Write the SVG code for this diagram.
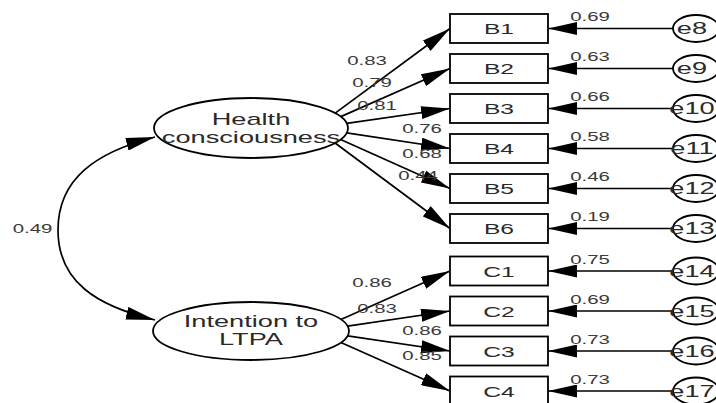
<svg xmlns="http://www.w3.org/2000/svg" width="716" height="403" viewBox="0 0 716 403">
<defs>
<style>
text{font-family:"Liberation Sans",Arial,sans-serif;fill:#2a2a2a;text-anchor:middle;transform-box:fill-box;transform-origin:center;transform:scaleX(1.7)}
.lat{font-size:16px}
.obs{font-size:14.5px}
.err{font-size:16px}
.num{font-size:12px;fill:#3a3a3a}
.shape{fill:#fff;stroke:#000;stroke-width:1.8}
.conn{fill:none;stroke:#000;stroke-width:1.7}
.arr{marker-end:url(#ah)}
</style>
<marker id="ah" markerUnits="userSpaceOnUse" markerWidth="30" markerHeight="13" refX="29" refY="6.5" orient="auto-start-reverse" viewBox="0 0 30 13">
<path d="M0,0 L29,6.5 L0,13 z" fill="#000"/>
</marker>
</defs>
<rect width="716" height="403" fill="#fff"/>

<g id="connectors">
<path class="conn" d="M155,137 C97,152 58,178 58,230 C58,282 97,306 155,320" marker-start="url(#ah)" marker-end="url(#ah)"/>
<line class="conn arr" x1="335.2" y1="113.1" x2="450" y2="28.5"/>
<line class="conn arr" x1="340.8" y1="116.6" x2="450" y2="68.5"/>
<line class="conn arr" x1="346.8" y1="123.4" x2="450" y2="108.5"/>
<line class="conn arr" x1="346.7" y1="132.8" x2="450" y2="148.5"/>
<line class="conn arr" x1="340.6" y1="139.5" x2="450" y2="188.5"/>
<line class="conn arr" x1="335.1" y1="143" x2="450" y2="228.5"/>
<line class="conn arr" x1="340.9" y1="319.5" x2="450" y2="271"/>
<line class="conn arr" x1="347.6" y1="326.2" x2="450" y2="311"/>
<line class="conn arr" x1="347.6" y1="335.8" x2="450" y2="351"/>
<line class="conn arr" x1="340.9" y1="342.5" x2="450" y2="391"/>
<line class="conn arr" x1="673" y1="28.5" x2="548" y2="28.5"/>
<line class="conn arr" x1="673" y1="68.5" x2="548" y2="68.5"/>
<line class="conn arr" x1="673" y1="108.5" x2="548" y2="108.5"/>
<line class="conn arr" x1="673" y1="148.5" x2="548" y2="148.5"/>
<line class="conn arr" x1="673" y1="188.5" x2="548" y2="188.5"/>
<line class="conn arr" x1="673" y1="228.5" x2="548" y2="228.5"/>
<line class="conn arr" x1="673" y1="271" x2="548" y2="271"/>
<line class="conn arr" x1="673" y1="311" x2="548" y2="311"/>
<line class="conn arr" x1="673" y1="351" x2="548" y2="351"/>
<line class="conn arr" x1="673" y1="391" x2="548" y2="391"/>
<text class="num" x="32.5" y="233">0.49</text>
<text class="num" x="367" y="65">0.83</text>
<text class="num" x="372" y="87">0.79</text>
<text class="num" x="377" y="110">0.81</text>
<text class="num" x="422" y="133">0.76</text>
<text class="num" x="422" y="158">0.68</text>
<text class="num" x="418" y="180">0.44</text>
<text class="num" x="372" y="287">0.86</text>
<text class="num" x="377" y="313">0.83</text>
<text class="num" x="422" y="335">0.86</text>
<text class="num" x="422" y="360">0.85</text>
<text class="num" x="590" y="21.5">0.69</text>
<text class="num" x="590" y="61.5">0.63</text>
<text class="num" x="590" y="101.5">0.66</text>
<text class="num" x="590" y="141.5">0.58</text>
<text class="num" x="590" y="181.5">0.46</text>
<text class="num" x="590" y="221.5">0.19</text>
<text class="num" x="590" y="264">0.75</text>
<text class="num" x="590" y="304">0.69</text>
<text class="num" x="590" y="344">0.73</text>
<text class="num" x="590" y="384">0.73</text>
</g>

<g id="health">
<ellipse class="shape" cx="251" cy="128" rx="97" ry="30"/>
<text class="lat" x="251" y="125">Health</text>
<text class="lat" x="251" y="143">consciousness</text>
</g>
<g id="intention">
<ellipse class="shape" cx="251" cy="331" rx="98" ry="29"/>
<text class="lat" x="251" y="327">Intention to</text>
<text class="lat" x="251" y="345">LTPA</text>
</g>

<g id="B1"><rect class="shape" x="450" y="14" width="98" height="29"/><text class="obs" x="499" y="34.5">B1</text></g>
<g id="B2"><rect class="shape" x="450" y="54" width="98" height="29"/><text class="obs" x="499" y="74.5">B2</text></g>
<g id="B3"><rect class="shape" x="450" y="94" width="98" height="29"/><text class="obs" x="499" y="114.5">B3</text></g>
<g id="B4"><rect class="shape" x="450" y="134" width="98" height="29"/><text class="obs" x="499" y="154.5">B4</text></g>
<g id="B5"><rect class="shape" x="450" y="174" width="98" height="29"/><text class="obs" x="499" y="194.5">B5</text></g>
<g id="B6"><rect class="shape" x="450" y="214" width="98" height="29"/><text class="obs" x="499" y="234.5">B6</text></g>
<g id="C1"><rect class="shape" x="450" y="256.5" width="98" height="29"/><text class="obs" x="499" y="277">C1</text></g>
<g id="C2"><rect class="shape" x="450" y="296.5" width="98" height="29"/><text class="obs" x="499" y="317">C2</text></g>
<g id="C3"><rect class="shape" x="450" y="336.5" width="98" height="29"/><text class="obs" x="499" y="357">C3</text></g>
<g id="C4"><rect class="shape" x="450" y="376.5" width="98" height="29"/><text class="obs" x="499" y="397">C4</text></g>

<g id="e8"><ellipse class="shape" cx="696" cy="28.5" rx="23" ry="13.5"/><text class="err" x="692" y="34.5">e8</text></g>
<g id="e9"><ellipse class="shape" cx="696" cy="68.5" rx="23" ry="13.5"/><text class="err" x="692" y="74.5">e9</text></g>
<g id="e10"><ellipse class="shape" cx="696" cy="108.5" rx="23" ry="13.5"/><text class="err" x="692" y="114.5">e10</text></g>
<g id="e11"><ellipse class="shape" cx="696" cy="148.5" rx="23" ry="13.5"/><text class="err" x="692" y="154.5">e11</text></g>
<g id="e12"><ellipse class="shape" cx="696" cy="188.5" rx="23" ry="13.5"/><text class="err" x="692" y="194.5">e12</text></g>
<g id="e13"><ellipse class="shape" cx="696" cy="228.5" rx="23" ry="13.5"/><text class="err" x="692" y="234.5">e13</text></g>
<g id="e14"><ellipse class="shape" cx="696" cy="271" rx="23" ry="13.5"/><text class="err" x="692" y="277">e14</text></g>
<g id="e15"><ellipse class="shape" cx="696" cy="311" rx="23" ry="13.5"/><text class="err" x="692" y="317">e15</text></g>
<g id="e16"><ellipse class="shape" cx="696" cy="351" rx="23" ry="13.5"/><text class="err" x="692" y="357">e16</text></g>
<g id="e17"><ellipse class="shape" cx="696" cy="391" rx="23" ry="13.5"/><text class="err" x="692" y="397">e17</text></g>
</svg>
